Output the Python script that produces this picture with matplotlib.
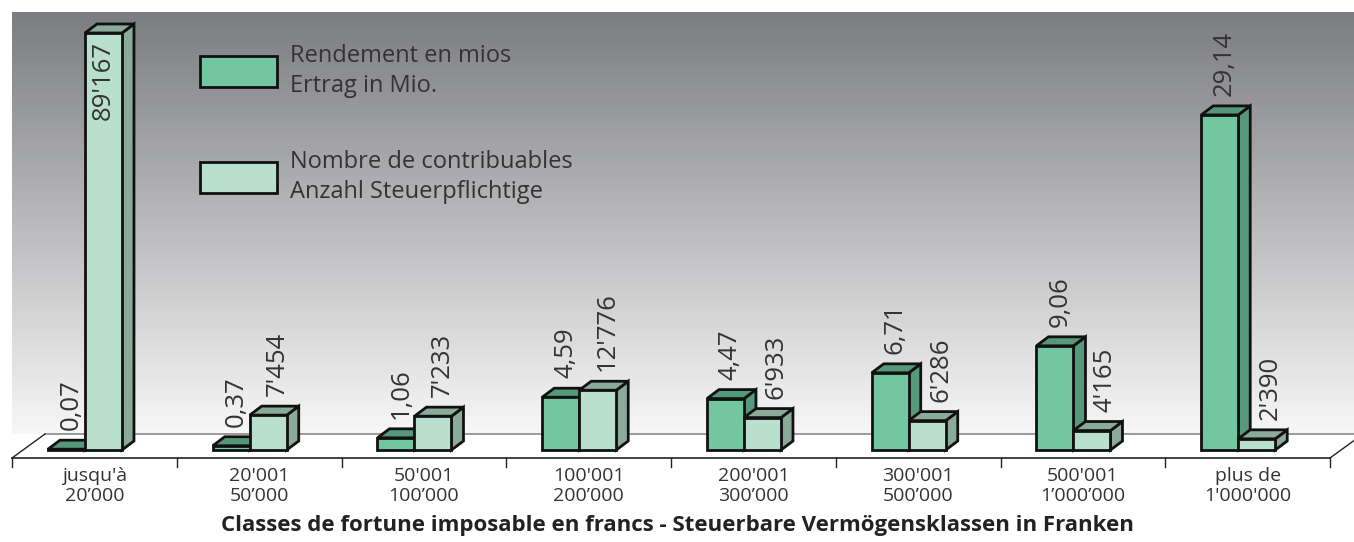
import numpy as np
import matplotlib.pyplot as plt
from matplotlib.patches import Polygon, Rectangle

plt.rcParams['font.family'] = ['Open Sans', 'Noto Sans', 'DejaVu Sans']

# data
classes_top = ["jusqu'à", "20'001", "50'001", "100'001", "200'001", "300'001", "500'001", "plus de"]
classes_bottom = ["20’000", "50’000", "100’000", "200’000", "300’000", "500’000", "1’000’000", "1'000'000"]
rendement = [0.07, 0.37, 1.06, 4.59, 4.47, 6.71, 9.06, 29.14]          # Ertrag in Mio.
contribuables = [89167, 7454, 7233, 12776, 6933, 6286, 4165, 2390]     # Anzahl Steuerpflichtige

legend_labels = ["Rendement en mios\nErtrag in Mio.",
                 "Nombre de contribuables\nAnzahl Steuerpflichtige"]
title = "Classes de fortune imposable en francs - Steuerbare Vermögensklassen in Franken"

W_PX, H_PX = 1354, 542
PX = 164.75      # pixels per category
PY = 11.5        # pixels per million (left series)
RATIO = 2459.0   # contributors per million-unit, second scale
BASE_PX = 450    # bar bottom in pixels from top

dark_front, dark_shade = '#72c6a0', '#56987a'
light_front, light_shade = '#b8e0cc', '#8aaa9a'
txt = '#333333'

fig = plt.figure(figsize=(W_PX / 100, H_PX / 100), dpi=100)
ax = fig.add_axes([0, 0, 1, 1])
x_lo, x_hi = -12 / PX, (W_PX - 12) / PX
y_lo, y_hi = -(H_PX - BASE_PX) / PY, BASE_PX / PY
ax.set_xlim(x_lo, x_hi)
ax.set_ylim(y_lo, y_hi)
ax.axis('off')

ax2 = ax.twinx()
ax2.set_ylim(y_lo * RATIO, y_hi * RATIO)
ax2.axis('off')

# background gradient above the floor
floor_back = (BASE_PX - 434) / PY
floor_front = -(458 - BASE_PX) / PY
top = (BASE_PX - 12) / PY
grad = np.linspace(0, 1, 256).reshape(-1, 1)
c_top = np.array([124, 125, 129]) / 255
c_bot = np.array([247, 247, 247]) / 255
img = c_bot + (c_top - c_bot) * grad[..., None]
ax.imshow(img, extent=[0, x_hi, floor_back, top], origin='lower', aspect='auto', zorder=0)

# floor
fdx = 33 / PX
ax.plot([fdx, x_hi], [floor_back, floor_back], color='#8a8a8a', lw=1.2, zorder=1)
ax.plot([0, 8], [floor_front, floor_front], color='#222222', lw=1.2, zorder=1)
ax.plot([0, fdx], [floor_front, floor_back], color='#222222', lw=1, zorder=1)
ax.plot([8, 8 + fdx], [floor_front, floor_back], color='#222222', lw=1, zorder=1, clip_on=True)
tick_len = 9 / PY
for i in range(9):
    ax.plot([i, i], [floor_front, floor_front - tick_len], color='#222222', lw=1, zorder=1)

BW = 37 / PX
DX = 12 / PX
DY = 9 / PY
GAP = 9.4 / PX


def bar3d(a, x0, h, dy, front, shade):
    kw = dict(edgecolor='#111111', lw=2, joinstyle='miter', zorder=3)
    a.add_patch(Polygon([(x0 + BW, 0), (x0 + BW + DX, dy), (x0 + BW + DX, h + dy), (x0 + BW, h)],
                        facecolor=shade, **kw))
    a.add_patch(Polygon([(x0, h), (x0 + DX, h + dy), (x0 + BW + DX, h + dy), (x0 + BW, h)],
                        facecolor=shade, **kw))
    a.add_patch(Rectangle((x0, 0), BW, h, facecolor=front, **kw))


def fmt_mio(v):
    return f"{v:.2f}".replace('.', ',')


def fmt_n(v):
    return f"{v:,}".replace(',', "'")


LBL = 18.5
for i, (r, n) in enumerate(zip(rendement, contribuables)):
    c = i + 0.5
    xd = c - GAP - BW
    xl = c - GAP
    bar3d(ax, xd, r, DY, dark_front, dark_shade)
    ax.text(xd + BW / 2 + 5 / PX, r + DY + 10 / PY, fmt_mio(r), rotation=90,
            ha='center', va='bottom', fontsize=LBL, color=txt, zorder=4)
    bar3d(ax2, xl, n, DY * RATIO, light_front, light_shade)
    if n + (DY + 90 / PY) * RATIO > top * RATIO:
        ax2.text(xl + BW / 2, n - 8 / PY * RATIO, fmt_n(n), rotation=90,
                 ha='center', va='top', fontsize=LBL, color=txt, zorder=4)
    else:
        lx = xl + BW / 2 + 9 / PX
        if r > n / RATIO:
            # keep the label clear of the taller neighbouring bar
            lx = xd + BW + DX + 20 / PX
        ax2.text(lx, n + (DY + 10 / PY) * RATIO, fmt_n(n), rotation=90,
                 ha='center', va='bottom', fontsize=LBL, color=txt, zorder=4)
    ax.text(c, 1 - 486 / H_PX, classes_top[i] + "\n" + classes_bottom[i], transform=ax.get_xaxis_transform(),
            ha='center', va='center', fontsize=14, color=txt, linespacing=1.12)

# legend
for k, (lab, col) in enumerate(zip(legend_labels, [dark_front, light_front])):
    y0 = 56 + k * 106
    ax2.add_patch(Rectangle((200 / W_PX, 1 - (y0 + 31) / H_PX), 77 / W_PX, 31 / H_PX,
                            transform=fig.transFigure, facecolor=col, edgecolor='#111111', lw=2, zorder=5))
    fig.text(290 / W_PX, 1 - (y0 + 15) / H_PX, lab, ha='left', va='center',
             fontsize=17, color=txt, linespacing=1.36)

fig.text(0.5, 1 - 525 / H_PX, title, ha='center', va='center', fontsize=16,
         fontweight='bold', color='#222222')

fig.savefig('out.png', dpi=100)
